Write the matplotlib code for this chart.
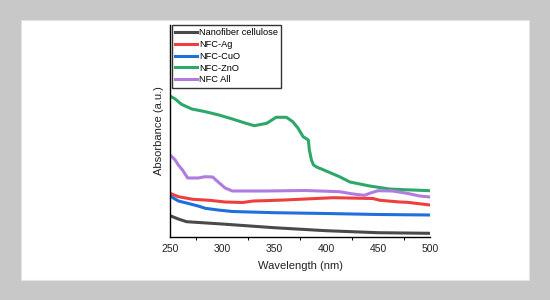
import numpy as np
import matplotlib
matplotlib.use('Agg')
import matplotlib.pyplot as plt
from matplotlib.patches import Rectangle

plt.rcParams['font.family'] = ['Liberation Sans', 'DejaVu Sans']

# wavelength (nm) and absorbance (a.u.)
wl_nfc = [250, 258, 266, 300, 350, 400, 450, 500]
ab_nfc = [0.213, 0.18, 0.153, 0.13, 0.093, 0.063, 0.043, 0.037]

wl_ag = [250, 258, 272, 288, 303, 320, 330, 341, 360, 407, 445, 452, 471, 478, 500]
ab_ag = [0.437, 0.403, 0.377, 0.367, 0.35, 0.345, 0.36, 0.363, 0.37, 0.393,
         0.385, 0.367, 0.35, 0.347, 0.32]

wl_cuo = [250, 258, 267, 277, 284, 296, 310, 350, 400, 450, 500]
ab_cuo = [0.41, 0.36, 0.337, 0.31, 0.287, 0.27, 0.255, 0.243, 0.235, 0.225, 0.22]

wl_zno = [250, 255, 261, 271, 284, 297, 310, 323, 331, 343, 352, 362, 368, 373,
          378, 383, 384, 386, 388, 391, 404, 413, 423, 442, 461, 471, 500]
ab_zno = [1.41, 1.38, 1.327, 1.28, 1.253, 1.22, 1.18, 1.137, 1.113, 1.137, 1.197,
          1.197, 1.153, 1.09, 1.003, 0.97, 0.87, 0.77, 0.72, 0.70, 0.643, 0.603,
          0.55, 0.51, 0.48, 0.475, 0.463]

wl_all = [250, 255, 258, 262, 267, 277, 284, 291, 296, 303, 310, 341, 380, 413,
          426, 437, 442, 450, 464, 478, 490, 500]
ab_all = [0.82, 0.77, 0.72, 0.67, 0.59, 0.59, 0.603, 0.60, 0.553, 0.49, 0.46,
          0.46, 0.465, 0.453, 0.43, 0.417, 0.437, 0.463, 0.46, 0.437, 0.41, 0.40]

series = [
    ('Nanofiber cellulose', wl_nfc, ab_nfc, '#4a4a4a'),
    ('NFC-Ag', wl_ag, ab_ag, '#ef3e3e'),
    ('NFC-CuO', wl_cuo, ab_cuo, '#1f6fdc'),
    ('NFC-ZnO', wl_zno, ab_zno, '#2ea86a'),
    ('NFC All', wl_all, ab_all, '#b07ce0'),
]

fig = plt.figure(figsize=(5.5, 3), dpi=100, facecolor='#c8c8c8')
fig.patches.append(Rectangle((21 / 550, 20 / 300), 508 / 550, 260 / 300,
                             transform=fig.transFigure, facecolor='white',
                             edgecolor='#e4e4e4', lw=0.8, zorder=-10))

ax = fig.add_axes([170 / 550, 63 / 300, 260 / 550, 212 / 300])
ax.set_facecolor('none')

for name, x, y, c in series:
    ax.plot(x, y, color=c, lw=2.2, label=name)

ax.set_xlim(250, 500)
ax.set_ylim(0, 2.12)
ax.set_xticks(np.arange(250, 501, 50))
ax.set_xticks(np.arange(275, 500, 50), minor=True)
ax.set_yticks([])
ax.tick_params(axis='x', which='major', length=0, labelsize=7.5, pad=5,
               labelcolor='#222222')
ax.tick_params(axis='x', which='minor', length=2.5, width=0.7)
for s in ['top', 'right']:
    ax.spines[s].set_visible(False)
ax.spines['left'].set_linewidth(1.0)
ax.spines['bottom'].set_linewidth(1.0)

ax.set_xlabel('Wavelength (nm)', fontsize=8, labelpad=5, color='#222222')
ax.set_ylabel('Absorbance (a.u.)', fontsize=8, labelpad=4, color='#222222')

leg = ax.legend(loc='upper left', bbox_to_anchor=(0.006, 1.0), borderaxespad=0,
                fontsize=6.7, frameon=True, fancybox=False, edgecolor='black',
                handlelength=2.4, handletextpad=0.2, labelspacing=0.3,
                borderpad=0.35)
leg.get_frame().set_linewidth(1.0)

fig.savefig('out.png', dpi=100, facecolor=fig.get_facecolor())
